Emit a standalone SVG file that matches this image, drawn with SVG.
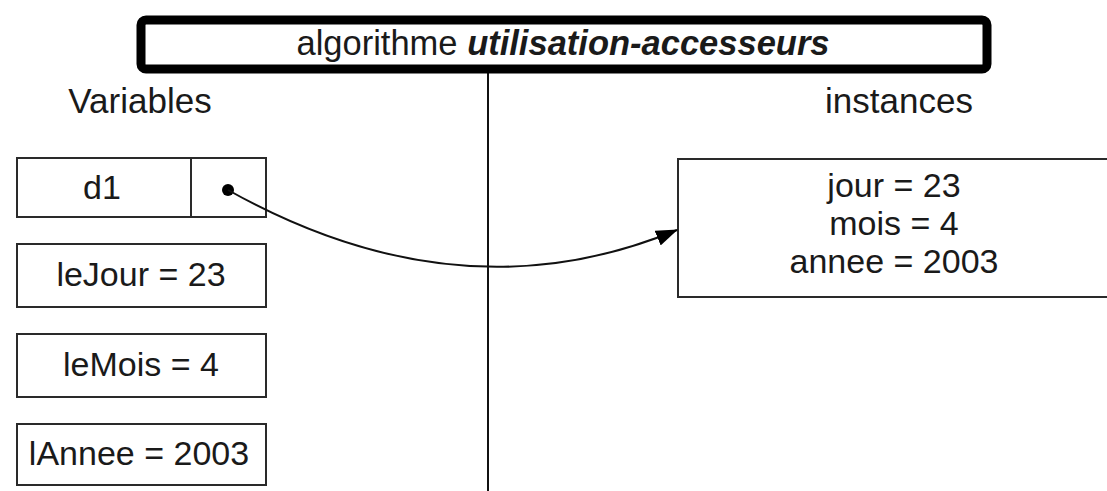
<svg xmlns="http://www.w3.org/2000/svg" width="1107" height="491" viewBox="0 0 1107 491">
  <style>
    .t { font-family: "Liberation Sans", Arial, sans-serif; font-size: 34px; fill: #1a1a1a; text-anchor: middle; }
    .box { fill: #ffffff; stroke: #2a2a2a; stroke-width: 2; }
    .line { fill: none; stroke: #111; stroke-width: 2; }
  </style>
  <defs>
    <marker id="arrow" markerWidth="22" markerHeight="16" refX="21" refY="8" orient="auto" markerUnits="userSpaceOnUse">
      <path d="M0,0 L22,8 L0,16 Z" fill="#000"/>
    </marker>
  </defs>
  <rect width="1107" height="491" fill="#fff"/>

  <g id="divider">
    <line class="line" x1="488" y1="70" x2="488" y2="491"/>
  </g>

  <g id="title">
    <rect x="141" y="20" width="846" height="49" rx="5" fill="#fff" stroke="#000" stroke-width="9"/>
    <text class="t" x="563" y="55" style="font-size:34.5px">algorithme <tspan font-weight="bold" font-style="italic">utilisation-accesseurs</tspan></text>
  </g>

  <g id="label-variables">
    <text class="t" x="140" y="113" style="font-size:35px">Variables</text>
  </g>
  <g id="label-instances">
    <text class="t" x="899" y="113" style="font-size:35px">instances</text>
  </g>

  <g id="var-d1">
    <rect class="box" x="17" y="158" width="249" height="59"/>
    <line x1="191" y1="158" x2="191" y2="217" stroke="#2a2a2a" stroke-width="2"/>
    <text class="t" x="102" y="199">d1</text>
    <circle cx="228" cy="190" r="6" fill="#000"/>
  </g>

  <g id="var-lejour">
    <rect class="box" x="17" y="244" width="249" height="63"/>
    <text class="t" x="141" y="286">leJour = 23</text>
  </g>

  <g id="var-lemois">
    <rect class="box" x="17" y="334" width="249" height="63"/>
    <text class="t" x="141" y="376">leMois = 4</text>
  </g>

  <g id="var-lannee">
    <rect class="box" x="17" y="424" width="249" height="61"/>
    <text class="t" x="139" y="465">lAnnee = 2003</text>
  </g>

  <g id="instance">
    <rect class="box" x="678" y="159" width="450" height="138"/>
    <text class="t" x="894" y="197">jour = 23</text>
    <text class="t" x="894" y="235">mois = 4</text>
    <text class="t" x="894" y="273">annee = 2003</text>
  </g>

  <g id="connectors">
    <path class="line" d="M228,190 Q460,320 677,230" marker-end="url(#arrow)"/>
  </g>
</svg>
